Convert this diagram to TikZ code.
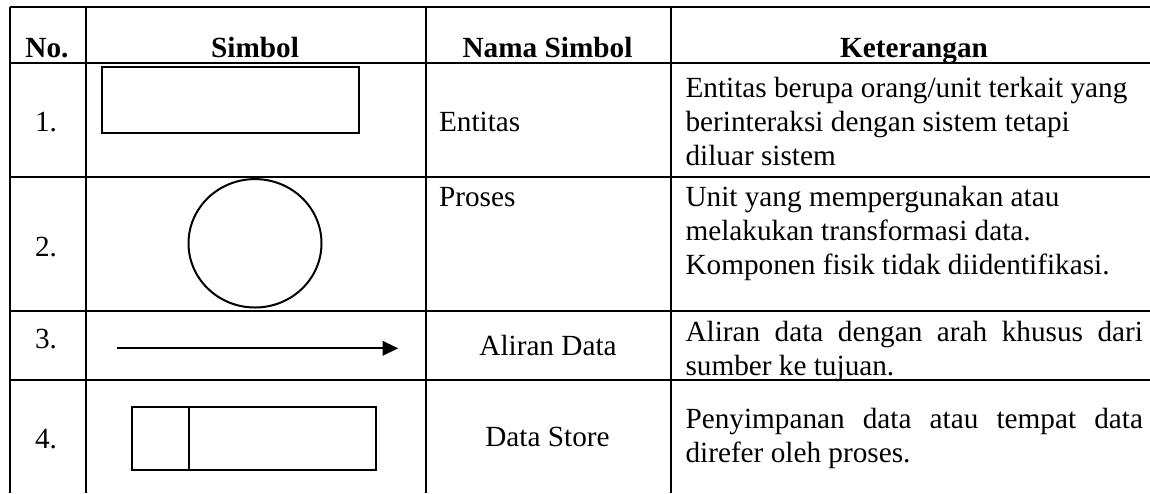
\documentclass[tikz,border=0pt]{standalone}
\usepackage{fontspec}
\setmainfont{Liberation Serif}
\usetikzlibrary{arrows.meta}
\begin{document}
\begin{tikzpicture}[x=0.4pt, y=-0.4pt,
  gridline/.style={line width=0.8pt},
  shp/.style={line width=0.8pt},
  txt/.style={inner sep=0pt, font=\fontsize{11.7}{13.6}\selectfont},
  hd/.style={inner sep=0pt, font=\fontsize{11.7}{13.6}\selectfont\bfseries, anchor=base},
  num/.style={txt, anchor=base},
  cellL/.style={txt, anchor=base west},
]
\useasboundingbox (0,0) rectangle (1150,493);
% grid
\draw[gridline] (10,7) -- (1150,7);
\draw[gridline] (10,63) -- (1150,63);
\draw[gridline] (10,177) -- (1150,177);
\draw[gridline] (10,311) -- (1150,311);
\draw[gridline] (10,380) -- (1150,380);
\draw[gridline] (10,7) -- (10,493);
\draw[gridline] (86,7) -- (86,493);
\draw[gridline] (425.5,7) -- (425.5,493);
\draw[gridline] (670.5,7) -- (670.5,493);
% header
\node[hd] (h1) at (47,57.3) {No.};
\node[hd] (h2) at (255,57.3) {Simbol};
\node[hd] (h3) at (547.5,57.3) {Nama Simbol};
\node[hd] (h4) at (914,57.3) {Keterangan};
% numbers
\node[num] (n1) at (46,131.5) {1.};
\node[num] (n2) at (46,256.5) {2.};
\node[num] (n3) at (46,348.3) {3.};
\node[num] (n4) at (46,448) {4.};
% symbols
\draw[shp] (101.7,67.3) rectangle (359,133.3);
\draw[shp] (255,243.3) ellipse [x radius=66.5, y radius=64.2];
\coordinate (a1) at (116.7,348.3);
\coordinate (a2) at (398.3,348.3);
\draw[shp, -{Triangle[length=6.3pt,width=5.8pt]}] (a1) -- (a2);
\draw[shp] (132.3,407.3) rectangle (376,470);
\draw[shp] (189.3,407.3) -- (189.3,470);
% names
\node[cellL] (m1) at (438.5,131.5) {Entitas};
\node[cellL] (m2) at (438.5,206.5) {Proses};
\node[num] (m3) at (548,355) {Aliran Data};
\node[num] (m4) at (547.5,446.7) {Data Store};
% descriptions
\node[cellL] (k1) at (685,97) {\parbox[t]{183pt}{Entitas berupa orang/unit terkait yang\\berinteraksi dengan sistem tetapi\\diluar sistem}};
\node[cellL] (k2) at (685,206.5) {\parbox[t]{183pt}{Unit yang mempergunakan atau\\melakukan transformasi data.\\Komponen fisik tidak diidentifikasi.}};
\node[cellL] (k3) at (685,341) {\parbox[t]{183pt}{\makebox[183pt][s]{Aliran data dengan arah khusus dari}\\sumber ke tujuan.}};
\node[cellL] (k4) at (685,428.3) {\parbox[t]{183pt}{\makebox[183pt][s]{Penyimpanan data atau tempat data}\\direfer oleh proses.}};
\end{tikzpicture}
\end{document}
